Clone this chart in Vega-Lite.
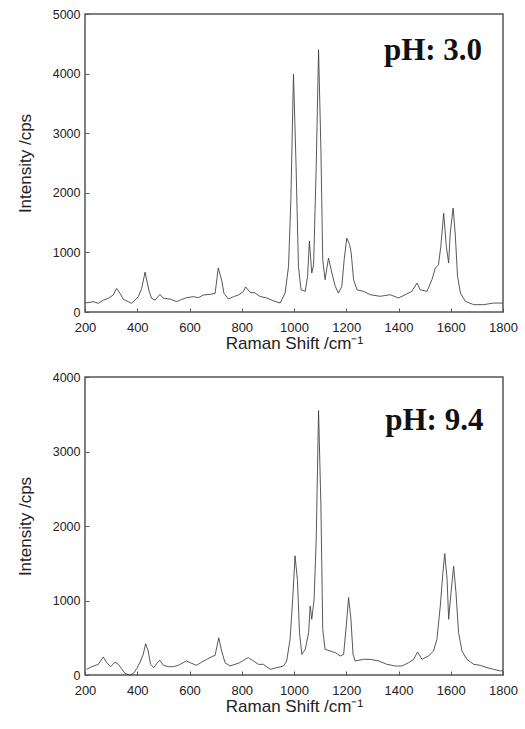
{
  "$schema": "https://vega.github.io/schema/vega-lite/v6.json",
  "background": "white",
  "padding": {"left": 15, "top": 7, "right": 5, "bottom": 5},
  "spacing": 18,
  "config": {
    "view": {"stroke": "#555", "strokeWidth": 1.5},
    "axis": {
      "grid": false,
      "domain": false,
      "labelFlush": false,
      "labelFont": "Liberation Sans",
      "labelFontSize": 13,
      "labelColor": "#222",
      "titleFont": "Liberation Sans",
      "titleFontSize": 17,
      "titleFontWeight": "normal",
      "titleColor": "#222",
      "tickColor": "#555",
      "tickSize": -4
    },
    "axisX": {"labelPadding": 13, "titlePadding": 1},
    "axisY": {"labelPadding": 9, "titlePadding": 18, "labelFontSize": 12.5}
  },
  "datasets": {
    "ph30": [
      {"shift": 200, "intensity": 150}, {"shift": 232, "intensity": 173}, {"shift": 251, "intensity": 145},
      {"shift": 270, "intensity": 200}, {"shift": 289, "intensity": 230}, {"shift": 308, "intensity": 285},
      {"shift": 321, "intensity": 395}, {"shift": 334, "intensity": 313}, {"shift": 347, "intensity": 212},
      {"shift": 366, "intensity": 173}, {"shift": 379, "intensity": 145}, {"shift": 391, "intensity": 200},
      {"shift": 404, "intensity": 257}, {"shift": 417, "intensity": 397}, {"shift": 430, "intensity": 670},
      {"shift": 436, "intensity": 536}, {"shift": 446, "intensity": 341}, {"shift": 455, "intensity": 229},
      {"shift": 468, "intensity": 200}, {"shift": 487, "intensity": 296}, {"shift": 500, "intensity": 229},
      {"shift": 525, "intensity": 218}, {"shift": 551, "intensity": 173}, {"shift": 570, "intensity": 212},
      {"shift": 589, "intensity": 240}, {"shift": 615, "intensity": 257}, {"shift": 634, "intensity": 240},
      {"shift": 653, "intensity": 285}, {"shift": 679, "intensity": 296}, {"shift": 698, "intensity": 313},
      {"shift": 710, "intensity": 740}, {"shift": 723, "intensity": 536}, {"shift": 732, "intensity": 313},
      {"shift": 749, "intensity": 218}, {"shift": 768, "intensity": 257}, {"shift": 787, "intensity": 285},
      {"shift": 806, "intensity": 341}, {"shift": 815, "intensity": 420}, {"shift": 832, "intensity": 330},
      {"shift": 851, "intensity": 320}, {"shift": 870, "intensity": 260}, {"shift": 896, "intensity": 235},
      {"shift": 920, "intensity": 190}, {"shift": 947, "intensity": 150}, {"shift": 966, "intensity": 318},
      {"shift": 979, "intensity": 765}, {"shift": 988, "intensity": 1883}, {"shift": 998, "intensity": 3990},
      {"shift": 1008, "intensity": 2441}, {"shift": 1017, "intensity": 765}, {"shift": 1027, "intensity": 374},
      {"shift": 1043, "intensity": 346}, {"shift": 1052, "intensity": 598}, {"shift": 1059, "intensity": 1190},
      {"shift": 1068, "intensity": 654}, {"shift": 1075, "intensity": 793}, {"shift": 1085, "intensity": 2441},
      {"shift": 1094, "intensity": 4400}, {"shift": 1103, "intensity": 2721}, {"shift": 1110, "intensity": 877},
      {"shift": 1119, "intensity": 542}, {"shift": 1132, "intensity": 905}, {"shift": 1145, "intensity": 654},
      {"shift": 1158, "intensity": 430}, {"shift": 1170, "intensity": 318}, {"shift": 1183, "intensity": 430},
      {"shift": 1192, "intensity": 877}, {"shift": 1202, "intensity": 1240}, {"shift": 1213, "intensity": 1129},
      {"shift": 1219, "intensity": 989}, {"shift": 1228, "intensity": 542}, {"shift": 1241, "intensity": 374},
      {"shift": 1266, "intensity": 346}, {"shift": 1292, "intensity": 290}, {"shift": 1330, "intensity": 263},
      {"shift": 1368, "intensity": 290}, {"shift": 1400, "intensity": 235}, {"shift": 1426, "intensity": 290},
      {"shift": 1451, "intensity": 346}, {"shift": 1471, "intensity": 486}, {"shift": 1483, "intensity": 374},
      {"shift": 1509, "intensity": 346}, {"shift": 1528, "intensity": 542}, {"shift": 1541, "intensity": 737},
      {"shift": 1553, "intensity": 793}, {"shift": 1562, "intensity": 1100}, {"shift": 1573, "intensity": 1659},
      {"shift": 1583, "intensity": 1100}, {"shift": 1592, "intensity": 821}, {"shift": 1598, "intensity": 1324},
      {"shift": 1609, "intensity": 1743}, {"shift": 1617, "intensity": 1324}, {"shift": 1626, "intensity": 598},
      {"shift": 1637, "intensity": 318}, {"shift": 1656, "intensity": 179}, {"shift": 1688, "intensity": 123},
      {"shift": 1726, "intensity": 123}, {"shift": 1764, "intensity": 150}, {"shift": 1800, "intensity": 150}
    ],
    "ph94": [
      {"shift": 206, "intensity": 76}, {"shift": 226, "intensity": 112}, {"shift": 251, "intensity": 143},
      {"shift": 270, "intensity": 242}, {"shift": 283, "intensity": 166}, {"shift": 298, "intensity": 112},
      {"shift": 315, "intensity": 174}, {"shift": 328, "intensity": 143}, {"shift": 340, "intensity": 85},
      {"shift": 353, "intensity": 22}, {"shift": 370, "intensity": 0}, {"shift": 385, "intensity": 18},
      {"shift": 398, "intensity": 85}, {"shift": 411, "intensity": 174}, {"shift": 423, "intensity": 277},
      {"shift": 432, "intensity": 420}, {"shift": 442, "intensity": 322}, {"shift": 451, "intensity": 143},
      {"shift": 464, "intensity": 98}, {"shift": 477, "intensity": 166}, {"shift": 487, "intensity": 197},
      {"shift": 500, "intensity": 130}, {"shift": 519, "intensity": 112}, {"shift": 538, "intensity": 112},
      {"shift": 557, "intensity": 130}, {"shift": 576, "intensity": 166}, {"shift": 589, "intensity": 188},
      {"shift": 608, "intensity": 157}, {"shift": 627, "intensity": 130}, {"shift": 647, "intensity": 174},
      {"shift": 666, "intensity": 210}, {"shift": 685, "intensity": 246}, {"shift": 698, "intensity": 264},
      {"shift": 712, "intensity": 500}, {"shift": 723, "intensity": 322}, {"shift": 736, "intensity": 166},
      {"shift": 755, "intensity": 121}, {"shift": 774, "intensity": 143}, {"shift": 793, "intensity": 166},
      {"shift": 813, "intensity": 210}, {"shift": 825, "intensity": 233}, {"shift": 845, "intensity": 188},
      {"shift": 864, "intensity": 143}, {"shift": 883, "intensity": 143}, {"shift": 909, "intensity": 76},
      {"shift": 934, "intensity": 98}, {"shift": 960, "intensity": 121}, {"shift": 972, "intensity": 188},
      {"shift": 985, "intensity": 479}, {"shift": 995, "intensity": 1016}, {"shift": 1004, "intensity": 1600},
      {"shift": 1013, "intensity": 1284}, {"shift": 1021, "intensity": 568}, {"shift": 1030, "intensity": 277},
      {"shift": 1043, "intensity": 344}, {"shift": 1056, "intensity": 568}, {"shift": 1062, "intensity": 926},
      {"shift": 1068, "intensity": 747}, {"shift": 1077, "intensity": 1016}, {"shift": 1085, "intensity": 1821},
      {"shift": 1094, "intensity": 3550}, {"shift": 1103, "intensity": 2268}, {"shift": 1110, "intensity": 613},
      {"shift": 1119, "intensity": 344}, {"shift": 1139, "intensity": 322}, {"shift": 1158, "intensity": 300},
      {"shift": 1177, "intensity": 255}, {"shift": 1190, "intensity": 277}, {"shift": 1200, "intensity": 658},
      {"shift": 1209, "intensity": 1040}, {"shift": 1218, "intensity": 747}, {"shift": 1226, "intensity": 277},
      {"shift": 1234, "intensity": 188}, {"shift": 1266, "intensity": 210}, {"shift": 1292, "intensity": 210},
      {"shift": 1324, "intensity": 188}, {"shift": 1356, "intensity": 143}, {"shift": 1388, "intensity": 121},
      {"shift": 1413, "intensity": 121}, {"shift": 1439, "intensity": 166}, {"shift": 1458, "intensity": 210},
      {"shift": 1473, "intensity": 309}, {"shift": 1490, "intensity": 210}, {"shift": 1515, "intensity": 255},
      {"shift": 1534, "intensity": 322}, {"shift": 1547, "intensity": 479}, {"shift": 1560, "intensity": 926},
      {"shift": 1570, "intensity": 1374}, {"shift": 1577, "intensity": 1630}, {"shift": 1586, "intensity": 1284},
      {"shift": 1592, "intensity": 747}, {"shift": 1601, "intensity": 1105}, {"shift": 1611, "intensity": 1460},
      {"shift": 1620, "intensity": 1105}, {"shift": 1630, "intensity": 568}, {"shift": 1643, "intensity": 322},
      {"shift": 1662, "intensity": 210}, {"shift": 1688, "intensity": 143}, {"shift": 1713, "intensity": 130},
      {"shift": 1739, "intensity": 98}, {"shift": 1764, "intensity": 76}, {"shift": 1790, "intensity": 54},
      {"shift": 1800, "intensity": 60}
    ]
  },
  "vconcat": [
    {
      "width": 418,
      "height": 298,
      "layer": [
        {
          "data": {"name": "ph30"},
          "mark": {"type": "line", "color": "#444", "strokeWidth": 0.9},
          "encoding": {
            "x": {"field": "shift", "type": "quantitative", "scale": {"domain": [200, 1800], "nice": false},
                  "axis": {"values": [200, 400, 600, 800, 1000, 1200, 1400, 1600, 1800], "format": "d"},
                  "title": "Raman Shift /cm⁻¹"},
            "y": {"field": "intensity", "type": "quantitative", "scale": {"domain": [0, 5000], "nice": false},
                  "axis": {"values": [0, 1000, 2000, 3000, 4000, 5000], "format": "d"},
                  "title": "Intensity /cps"}
          }
        },
        {
          "data": {"values": [{"label": "pH: 3.0"}]},
          "mark": {"type": "text", "font": "Liberation Serif", "fontWeight": "bold", "fontSize": 31, "align": "right", "baseline": "alphabetic", "color": "#111"},
          "encoding": {
            "x": {"datum": 1720, "type": "quantitative"},
            "y": {"datum": 4230, "type": "quantitative"},
            "text": {"field": "label"}
          }
        }
      ]
    },
    {
      "width": 418,
      "height": 298,
      "layer": [
        {
          "data": {"name": "ph94"},
          "mark": {"type": "line", "color": "#444", "strokeWidth": 0.9},
          "encoding": {
            "x": {"field": "shift", "type": "quantitative", "scale": {"domain": [200, 1800], "nice": false},
                  "axis": {"values": [200, 400, 600, 800, 1000, 1200, 1400, 1600, 1800], "format": "d"},
                  "title": "Raman Shift /cm⁻¹"},
            "y": {"field": "intensity", "type": "quantitative", "scale": {"domain": [0, 4000], "nice": false},
                  "axis": {"values": [0, 1000, 2000, 3000, 4000], "format": "d"},
                  "title": "Intensity /cps"}
          }
        },
        {
          "data": {"values": [{"label": "pH: 9.4"}]},
          "mark": {"type": "text", "font": "Liberation Serif", "fontWeight": "bold", "fontSize": 31, "align": "right", "baseline": "alphabetic", "color": "#111"},
          "encoding": {
            "x": {"datum": 1725, "type": "quantitative"},
            "y": {"datum": 3290, "type": "quantitative"},
            "text": {"field": "label"}
          }
        }
      ]
    }
  ]
}
